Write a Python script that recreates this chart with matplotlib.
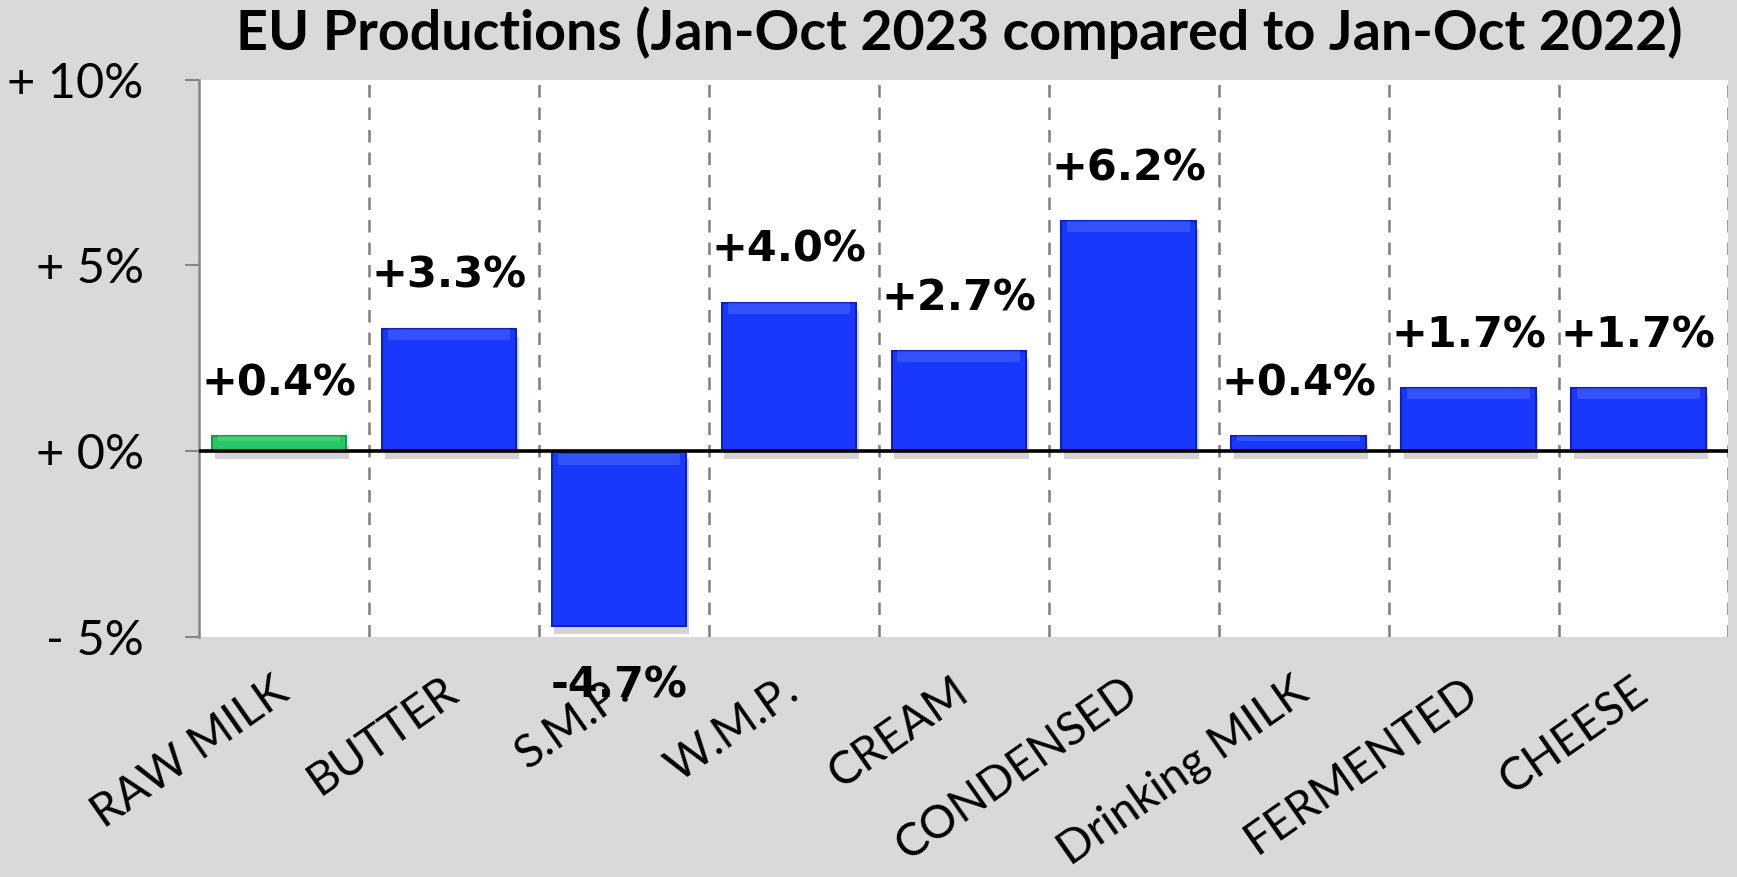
import matplotlib
matplotlib.use("Agg")
import matplotlib.pyplot as plt
import matplotlib.patheffects as pe

plt.rcParams['font.family'] = ['Lato', 'DejaVu Sans']

categories = ['RAW MILK', 'BUTTER', 'S.M.P.', 'W.M.P.', 'CREAM', 'CONDENSED',
              'Drinking MILK', 'FERMENTED', 'CHEESE']
changes = [0.4, 3.3, -4.7, 4.0, 2.7, 6.2, 0.4, 1.7, 1.7]
ytick_vals = [-5, 0, 5, 10]
ytick_labels = ['- 5%', '+ 0%', '+ 5%', '+ 10%']
title = 'EU Productions (Jan-Oct 2023 compared to Jan-Oct 2022)'

BG = '#d9d9d9'
BLUE = '#1a38fb'
BLUE_EDGE = '#0c22b8'
BLUE_HI = '#5a78ff'
GREEN = '#25c765'
GREEN_EDGE = '#159a48'
GREEN_HI = '#6ee09a'

fig = plt.figure(figsize=(17.37, 8.77), dpi=100, facecolor=BG)
ax = fig.add_axes([0.1146, 0.274, 0.8805, 0.635])
ax.set_facecolor('white')

x = list(range(len(categories)))
xb = [xi - 0.03 for xi in x]
colors = [GREEN] + [BLUE] * (len(categories) - 1)
edges = [GREEN_EDGE] + [BLUE_EDGE] * (len(categories) - 1)
highs = [GREEN_HI] + [BLUE_HI] * (len(categories) - 1)

# dashed separators between categories
for i in range(len(categories)):
    ax.axvline(i + 0.5, color='#7f7f7f', lw=1.8, ls=(0, (5, 4)), zorder=1)

shadow = [pe.SimplePatchShadow(offset=(2, -6), shadow_rgbFace='#666666', alpha=0.28),
          pe.Normal()]
bars = ax.bar(xb, changes, width=0.79, color=colors,
              edgecolor=edges, linewidth=1.5, zorder=3)
for b in bars:
    b.set_path_effects(shadow)

# light bevel strip at the top edge of each bar
for xi, v, c in zip(xb, changes, highs):
    h = min(0.3, abs(v) * 0.3)
    top = max(v, 0) if v >= 0 else -0.08
    ax.bar(xi, h, bottom=top - h, width=0.72, color=c, alpha=0.4,
           linewidth=0, zorder=3.5)

ax.axhline(0, color='black', lw=2.6, zorder=4)

for xi, v in zip(xb, changes):
    ax.annotate(f'{v:+.1f}%', (xi, v), xytext=(0, 38 if v >= 0 else -43),
                textcoords='offset points', ha='center', va='center',
                fontsize=31, fontweight='bold', color='black',
                family=['DejaVu Sans'], annotation_clip=False, zorder=5)

ax.set_xlim(-0.5, len(categories) - 0.5)
ax.set_ylim(-5, 10)
ax.set_yticks(ytick_vals)
ax.set_yticklabels(ytick_labels, fontsize=35)
ax.tick_params(axis='y', direction='out', length=10, width=1.5, color='#868686', pad=30)

ax.set_xticks(x)
ax.set_xticklabels(categories, fontsize=33, rotation=35, ha='right',
                   va='center', rotation_mode='anchor')
ax.tick_params(axis='x', length=0, pad=36)

for s in ['top', 'right', 'bottom']:
    ax.spines[s].set_visible(False)
ax.spines['left'].set_color('#868686')
ax.spines['left'].set_linewidth(1.8)

fig.text(0.552, 1 - 33 / 877, title, ha='center', va='center',
         fontsize=40, fontweight='bold')

fig.savefig('out.png', dpi=100, facecolor=BG)
